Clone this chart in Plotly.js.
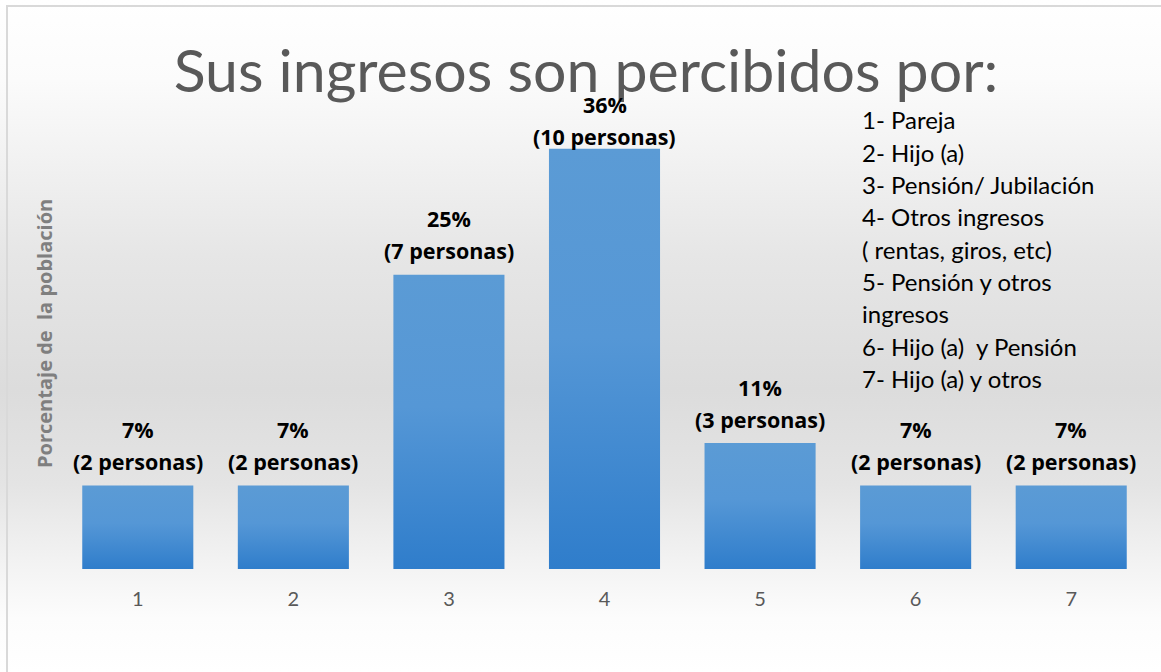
<!DOCTYPE html>
<html>
<head>
<meta charset="utf-8">
<script src="https://cdn.plot.ly/plotly-3.0.1.min.js"></script>
<style>
  html, body { margin: 0; padding: 0; background: #ffffff; }
  #wrap { position: relative; width: 1161px; height: 672px; overflow: hidden; }
  #chart { position: absolute; left: 0; top: 0; width: 1161px; height: 672px;
    background: linear-gradient(to bottom, #ffffff 0%, #fbfbfb 12%, #e6e6e6 38%, #dcdcdc 58%, #e4e4e4 72%, #f3f3f3 84%, #fcfcfc 92%, #ffffff 100%); }
  #frame { position: absolute; left: 6px; top: 5px; width: 1170px; height: 700px;
    border-left: 2px solid #d9d9d9; border-top: 2px solid #d9d9d9; pointer-events: none; }
</style>
</head>
<body>
<div id="wrap"><div id="chart"></div><div id="frame"></div></div>
<script>
// ---- data ----
const categories = ["1", "2", "3", "4", "5", "6", "7"];
const percentages = [7.1, 7.1, 25, 35.7, 10.7, 7.1, 7.1];
const percentLabels = ["7%", "7%", "25%", "36%", "11%", "7%", "7%"];
const personLabels = ["(2 personas)", "(2 personas)", "(7 personas)", "(10 personas)", "(3 personas)", "(2 personas)", "(2 personas)"];
const legendLines = [
  "1- Pareja",
  "2- Hijo (a)",
  "3- Pensión/ Jubilación",
  "4- Otros ingresos",
  "( rentas, giros, etc)",
  "5- Pensión y otros",
  "ingresos",
  "6- Hijo (a)  y Pensión",
  "7- Hijo (a) y otros"
];
const chartTitle = "Sus ingresos son percibidos por:";
const yTitle = "Porcentaje de\u00a0 la población";

// ---- layout geometry (pixels) ----
const W = 1161, H = 672;
const M = { l: 60, r: 12, t: 110, b: 103 };
const plotW = W - M.l - M.r, plotH = H - M.t - M.b;
const px2x = px => (px - M.l) / plotW;
const px2y = py => (H - M.b - py) / plotH;

const FONT = "Lato, 'Open Sans', sans-serif";
const LABEL_FONT = "'Open Sans', Lato, sans-serif";

const annotations = [];
// data labels (two lines each); the 4th label sits a little closer to its bar
const labelLift = [0, 0, 0, -12, 0, 0, 0];
categories.forEach((c, i) => {
  annotations.push({
    x: i, y: percentages[i], xref: "x", yref: "y",
    text: "<b>" + personLabels[i] + "</b>", showarrow: false,
    yanchor: "middle", yshift: 24 + labelLift[i],
    font: { family: LABEL_FONT, size: 21.5, color: "#000000" }
  });
  annotations.push({
    x: i, y: percentages[i], xref: "x", yref: "y",
    text: "<b>" + percentLabels[i] + "</b>", showarrow: false,
    yanchor: "middle", yshift: 56 + labelLift[i],
    font: { family: LABEL_FONT, size: 21.5, color: "#000000" }
  });
});

// legend text box
legendLines.forEach((t, i) => {
  annotations.push({
    x: px2x(860), y: px2y(120 + i * 32.3), xref: "paper", yref: "paper",
    text: t, showarrow: false, xanchor: "left", yanchor: "middle",
    font: { family: FONT, size: 24, color: "#000000" }
  });
});

// vertical axis title
annotations.push({
  x: px2x(44), y: px2y(334), xref: "paper", yref: "paper",
  text: "<b>" + yTitle + "</b>", showarrow: false, textangle: -90,
  xanchor: "center", yanchor: "middle",
  font: { family: LABEL_FONT, size: 20, color: "#7f7f7f" }
});

const trace = {
  type: "bar",
  x: categories,
  y: percentages,
  marker: { color: "#4a8fd6", line: { width: 0 } },
  hoverinfo: "x+y",
  showlegend: false
};

const layout = {
  width: W, height: H,
  margin: M,
  paper_bgcolor: "rgba(0,0,0,0)",
  plot_bgcolor: "rgba(0,0,0,0)",
  bargap: 0.286,
  title: {
    text: chartTitle,
    x: px2x(586), xref: "paper", xanchor: "center",
    y: 1 - 71 / H, yref: "container", yanchor: "middle",
    font: { family: FONT, size: 59, color: "#595959" }
  },
  xaxis: {
    type: "category",
    range: [-0.5, 6.5],
    showgrid: false, zeroline: false, showline: false,
    ticks: "", ticklabelstandoff: 16,
    tickfont: { family: FONT, size: 20, color: "#595959" }
  },
  yaxis: {
    range: [0, 39],
    showgrid: false, zeroline: false, showline: false,
    showticklabels: false, ticks: ""
  },
  annotations: annotations
};

Plotly.newPlot("chart", [trace], layout, { displayModeBar: false, staticPlot: true }).then(gd => {
  const svg = gd.querySelector("svg.main-svg");
  const ns = "http://www.w3.org/2000/svg";
  let defs = svg.querySelector("defs");
  if (!defs) { defs = document.createElementNS(ns, "defs"); svg.insertBefore(defs, svg.firstChild); }
  const lg = document.createElementNS(ns, "linearGradient");
  lg.setAttribute("id", "barGrad");
  lg.setAttribute("x1", "0"); lg.setAttribute("y1", "0");
  lg.setAttribute("x2", "0"); lg.setAttribute("y2", "1");
  [["0%", "#5b9bd5"], ["45%", "#5597d6"], ["100%", "#2f7dcb"]].forEach(([o, c]) => {
    const s = document.createElementNS(ns, "stop");
    s.setAttribute("offset", o); s.setAttribute("stop-color", c);
    lg.appendChild(s);
  });
  defs.appendChild(lg);
  gd.querySelectorAll(".barlayer .point path").forEach(p => { p.style.fill = "url(#barGrad)"; });
});
</script>
</body>
</html>
